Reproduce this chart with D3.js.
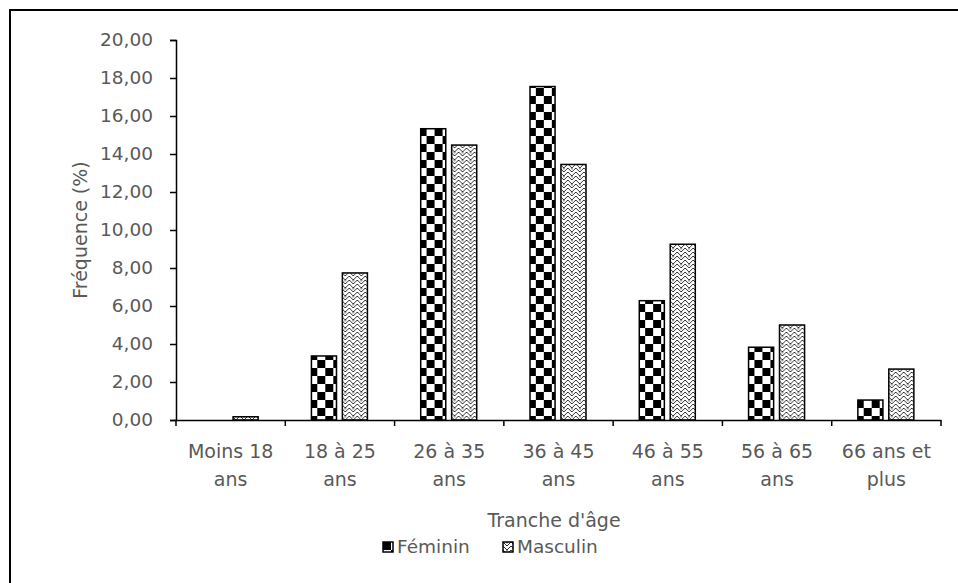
<!DOCTYPE html>
<html>
<head>
<meta charset="utf-8">
<script src="https://cdn.jsdelivr.net/npm/d3@7"></script>
<style>
  body { margin: 0; background: #fff; }
  text { font-family: "DejaVu Sans", sans-serif; fill: #595959; }
</style>
</head>
<body>
<div id="chart"></div>
<script>
var categories = [["Moins 18", "ans"], ["18 à 25", "ans"], ["26 à 35", "ans"], ["36 à 45", "ans"],
                  ["46 à 55", "ans"], ["56 à 65", "ans"], ["66 ans et", "plus"]];
var series = ["Féminin", "Masculin"];
var feminin  = [0.00, 3.37, 15.33, 17.55, 6.28, 3.83, 1.05];
var masculin = [0.17, 7.74, 14.47, 13.45, 9.25, 5.00, 2.68];
var yTicks = [0, 2, 4, 6, 8, 10, 12, 14, 16, 18, 20];

var W = 958, H = 583;
var margin = {top: 40, right: 17, bottom: 163, left: 176};
var width = W - margin.left - margin.right,
    height = H - margin.top - margin.bottom;

var svg = d3.select("#chart").append("svg")
    .attr("width", W).attr("height", H);

// patterns
var defs = svg.append("defs");
var chk = defs.append("pattern").attr("id", "checker")
    .attr("patternUnits", "userSpaceOnUse").attr("width", 16).attr("height", 16);
chk.append("rect").attr("width", 16).attr("height", 16).attr("fill", "#fff");
chk.append("rect").attr("width", 8).attr("height", 8).attr("fill", "#000");
chk.append("rect").attr("x", 8).attr("y", 8).attr("width", 8).attr("height", 8).attr("fill", "#000");

var zz = defs.append("pattern").attr("id", "weave")
    .attr("patternUnits", "userSpaceOnUse").attr("width", 8).attr("height", 8);
zz.append("rect").attr("width", 8).attr("height", 8).attr("fill", "#fff");
zz.append("path")
    .attr("d", "M0,0 L4,4 L8,0 M0,4 L4,8 L8,4 M4,0 L4,1.5")
    .attr("fill", "none").attr("stroke", "#333").attr("stroke-width", 1);

var fills = {"Féminin": "url(#checker)", "Masculin": "url(#weave)"};

// outer frame
svg.append("rect").attr("x", 10).attr("y", 10)
    .attr("width", W).attr("height", H)
    .attr("fill", "none").attr("stroke", "#000").attr("stroke-width", 2);

var g = svg.append("g")
    .attr("transform", "translate(" + margin.left + "," + margin.top + ")");

var x = d3.scaleBand()
    .domain(d3.range(categories.length))
    .range([0, width]);

var y = d3.scaleLinear()
    .domain([0, 20])
    .range([height, 0]);

// y axis
var y_axis = d3.axisLeft(y).tickValues(yTicks).tickSize(6).tickPadding(17)
    .tickFormat(function(d) { return d3.format(".2f")(d).replace(".", ","); });
var yg = g.append("g").attr("class", "y_axis").call(y_axis);
yg.select(".domain").attr("stroke", "#000").attr("stroke-width", 1.5);
yg.selectAll(".tick line").attr("stroke", "#000").attr("stroke-width", 1.5);
yg.selectAll(".tick text").style("font-family", "DejaVu Sans").style("font-size", "18.5px").attr("fill", "#595959");

// bars
var data = categories.map(function(c, i) {
  return {i: i, values: [{s: "Féminin", v: feminin[i]}, {s: "Masculin", v: masculin[i]}]};
});

var groups = g.selectAll(".grp").data(data).enter().append("g")
    .attr("class", "grp")
    .attr("transform", function(d) { return "translate(" + x(d.i) + ",0)"; });

var inner = d3.scaleBand().domain(series)
    .range([x.bandwidth() / 2 - 28.5, x.bandwidth() / 2 + 27.5])
    .paddingInner(0.19);

groups.selectAll("rect").data(function(d) { return d.values.filter(function(e) { return e.v > 0; }); })
  .enter().append("rect")
    .attr("x", function(d) { return inner(d.s); })
    .attr("width", inner.bandwidth())
    .attr("y", function(d) { return y(d.v); })
    .attr("height", function(d) { return height - y(d.v); })
    .attr("fill", function(d) { return fills[d.s]; })
    .attr("stroke", "#000")
    .attr("stroke-width", 1.5);

// x axis
var x_axis = d3.axisBottom(x).tickSize(0).tickFormat("");
var xg = g.append("g").attr("class", "x_axis")
    .attr("transform", "translate(0," + height + ")")
    .call(x_axis);
xg.select(".domain").attr("stroke", "#000").attr("stroke-width", 1.5);
var bounds = d3.range(categories.length + 1).map(function(i) { return i * x.step(); });
xg.selectAll(".bnd").data(bounds).enter().append("line")
    .attr("x1", function(d) { return d; }).attr("x2", function(d) { return d; })
    .attr("y1", 0).attr("y2", 6)
    .attr("stroke", "#000").attr("stroke-width", 1.5);

xg.selectAll(".lbl").data(data).enter().append("text")
    .attr("class", "lbl")
    .attr("x", function(d) { return x(d.i) + x.bandwidth() / 2; })
    .attr("y", 38)
    .attr("text-anchor", "middle")
    .style("font-size", "19px")
    .each(function(d) {
      var t = d3.select(this);
      categories[d.i].forEach(function(line, k) {
        t.append("tspan").attr("x", x(d.i) + x.bandwidth() / 2)
          .attr("dy", k === 0 ? 0 : 28).text(line);
      });
    });

// axis titles
svg.append("text")
    .attr("x", 554)
    .attr("y", 527)
    .attr("text-anchor", "middle")
    .style("font-size", "19px")
    .text("Tranche d'âge");

svg.append("text")
    .attr("transform", "translate(87," + (margin.top + height / 2) + ") rotate(-90)")
    .attr("text-anchor", "middle")
    .style("font-size", "19px")
    .text("Fréquence (%)");

// legend
var legend = svg.append("g").attr("transform", "translate(383,542)");
var lx = [0, 120];
series.forEach(function(s, i) {
  var lg = legend.append("g").attr("transform", "translate(" + lx[i] + ",0)");
  lg.append("rect").attr("width", 10).attr("height", 10)
    .attr("fill", fills[s]).attr("stroke", "#000").attr("stroke-width", 1.5);
  lg.append("text").attr("x", 14).attr("y", 11).style("font-size", "18.5px").text(s);
});
</script>
</body>
</html>
